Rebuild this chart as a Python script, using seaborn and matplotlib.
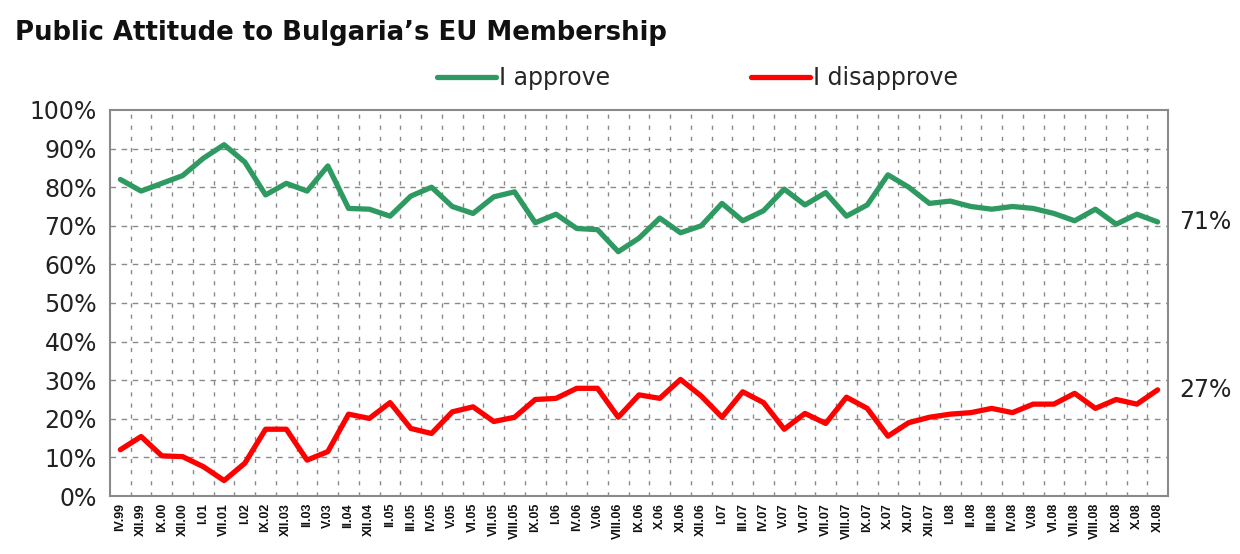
import matplotlib
matplotlib.use("Agg")
import matplotlib.pyplot as plt
import seaborn as sns
import pandas as pd
import numpy as np
from matplotlib.lines import Line2D

periods = ["IV.99", "XII.99", "IX.00", "XII.00", "I.01", "VII.01", "I.02", "IX.02", "XII.03", "II.03",
           "V.03", "II.04", "XII.04", "II.05", "III.05", "IV.05", "V.05", "VI.05", "VII.05", "VIII.05",
           "IX.05", "I.06", "IV.06", "V.06", "VIII.06", "IX.06", "X.06", "XI.06", "XII.06", "I.07",
           "III.07", "IV.07", "V.07", "VI.07", "VII.07", "VIII.07", "IX.07", "X.07", "XI.07", "XII.07",
           "I.08", "II.08", "III.08", "IV.08", "V.08", "VI.08", "VII.08", "VIII.08", "IX.08", "X.08", "XI.08"]

approve = [82, 79, 81, 83, 87.5, 91, 86.5, 78, 81, 79,
           85.5, 74.5, 74.3, 72.5, 77.7, 80, 75, 73.2, 77.5, 78.8,
           70.8, 73, 69.3, 69, 63.3, 66.8, 72, 68.2, 70, 75.8,
           71.3, 73.9, 79.5, 75.4, 78.6, 72.5, 75.4, 83.2, 80, 75.8,
           76.4, 75, 74.3, 75, 74.5, 73.2, 71.3, 74.3, 70.4, 73, 71]

disapprove = [12, 15.4, 10.4, 10.2, 7.6, 4, 8.5, 17.3, 17.3, 9.3,
              11.5, 21.2, 20.1, 24.2, 17.5, 16.2, 21.8, 23.1, 19.3, 20.4,
              25, 25.3, 27.9, 27.9, 20.4, 26.2, 25.3, 30.2, 25.9, 20.4,
              27, 24.2, 17.3, 21.4, 18.8, 25.6, 22.7, 15.5, 19, 20.4,
              21.2, 21.6, 22.7, 21.6, 23.8, 23.8, 26.6, 22.7, 25, 23.8, 27.5]

series_names = ["I approve", "I disapprove"]
end_labels = ["71%", "27%"]
colors = ["#2E9A62", "#FF0000"]

df = pd.DataFrame({
    "idx": list(range(len(periods))) * 2,
    "value": approve + disapprove,
    "series": [series_names[0]] * len(periods) + [series_names[1]] * len(periods),
})

sns.set_style("white")
plt.rcParams["font.family"] = ["DejaVu Sans"]

fig = plt.figure(figsize=(12.4, 5.54), dpi=100)
ax = fig.add_axes([110 / 1240, 58 / 554, 1058 / 1240, 386 / 554])

sns.lineplot(data=df, x="idx", y="value", hue="series", palette=colors,
             linewidth=3.8, ax=ax, legend=False, sort=False)

n = len(periods)
ax.set_xlim(-0.5, n - 0.5)
ax.set_ylim(0, 100)

# grid
grid_kw = dict(color="#8a8a8a", linewidth=1.0, linestyle=(0, (4, 4)), zorder=0)
for yv in range(10, 100, 10):
    ax.axhline(yv, **grid_kw)
for b in np.arange(0.5, n - 1, 1.0):
    ax.axvline(b, color="#8a8a8a", linewidth=1.0, linestyle=(0, (3, 5)), zorder=0)

ax.set_yticks(range(0, 101, 10))
ax.set_yticklabels([f"{v}%" for v in range(0, 101, 10)], fontsize=17, color="#222222")
ax.set_xticks(range(n))
ax.set_xticklabels(periods, rotation=90, fontsize=9, color="#111111",
                   family=["Liberation Sans", "DejaVu Sans"], fontweight="bold")
ax.set_xticks(np.arange(-0.5, n, 1.0), minor=True)
ax.tick_params(axis="x", which="major", length=0, pad=5)
ax.tick_params(axis="x", which="minor", length=7, width=1.2, color="#8a8a8a", direction="inout")
ax.tick_params(axis="y", which="major", length=7, width=1.2, color="#8a8a8a", direction="inout", pad=6)

for s in ax.spines.values():
    s.set_color("#8a8a8a")
    s.set_linewidth(1.5)
ax.set_xlabel("")
ax.set_ylabel("")

# end labels
ax.text(n - 0.5 + 0.55, approve[-1], end_labels[0], fontsize=17, va="center", ha="left", color="#222222")
ax.text(n - 0.5 + 0.55, disapprove[-1], end_labels[1], fontsize=17, va="center", ha="left", color="#222222")

# legend
handles = [Line2D([0], [0], color=c, linewidth=3.8) for c in colors]
fig.legend(handles, series_names, loc="center", bbox_to_anchor=(0.5625, 0.859), ncol=2,
           frameon=False, fontsize=17, handlelength=2.5, handletextpad=0.1, columnspacing=6.0)

fig.text(15 / 1240, 1 - 33 / 554, "Public Attitude to Bulgaria\u2019s EU Membership",
         fontsize=18.7, fontweight="bold", va="center", ha="left", color="#111111")

fig.savefig("out.png", dpi=100, facecolor="white")
